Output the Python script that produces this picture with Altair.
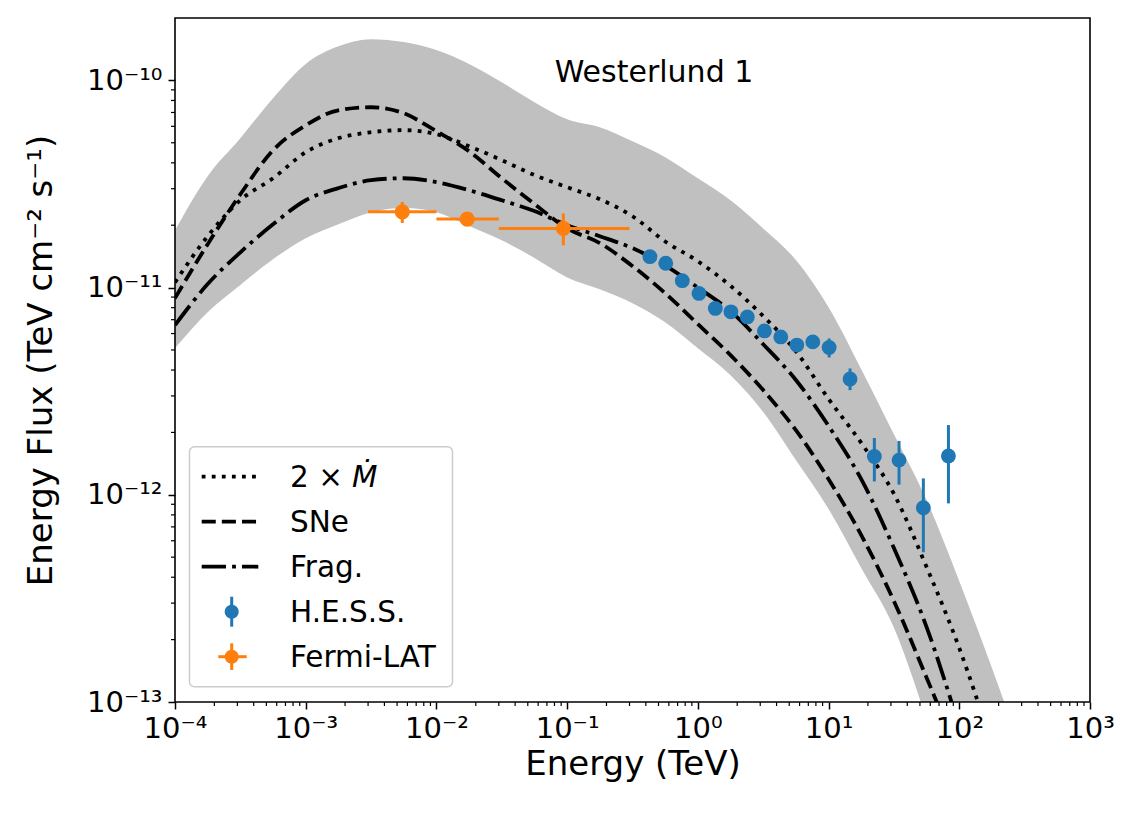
import altair as alt
import pandas as pd

# ---------------- data ----------------
E_grid = [1e-4, 1.778e-4, 3.162e-4, 5.623e-4, 1e-3, 1.778e-3, 3.162e-3, 5.623e-3,
          1e-2, 1.778e-2, 3.162e-2, 5.623e-2, 1e-1, 0.1778, 0.3162, 0.5623,
          1.0, 1.778, 3.162, 5.623, 10.0, 17.78, 31.62, 56.23, 100.0, 177.8, 316.2]

band_upper = [1.89e-11, 3.45e-11, 5.26e-11, 8.20e-11, 1.20e-10, 1.46e-10, 1.58e-10, 1.53e-10,
              1.40e-10, 1.20e-10, 9.79e-11, 7.84e-11, 6.49e-11, 5.94e-11, 5.09e-11, 4.26e-11,
              3.37e-11, 2.64e-11, 1.93e-11, 1.36e-11, 8.04e-12, 4.04e-12, 1.96e-12, 9.43e-13,
              3.83e-13, 1.46e-13, 5.25e-14]
band_lower = [5.10e-12, 7.61e-12, 1.03e-11, 1.37e-11, 1.73e-11, 2.02e-11, 2.31e-11, 2.42e-11,
              2.31e-11, 1.98e-11, 1.69e-11, 1.39e-11, 1.12e-11, 9.82e-12, 8.41e-12, 6.81e-12,
              5.10e-12, 3.78e-12, 2.51e-12, 1.47e-12, 8.53e-13, 4.43e-13, 2.28e-13, 8.19e-14,
              2.41e-14, 6.37e-15, 1.5e-15]

mdot_F = [1.06e-11, 1.77e-11, 2.64e-11, 3.37e-11, 4.50e-11, 5.26e-11, 5.62e-11, 5.75e-11,
          5.50e-11, 4.81e-11, 4.12e-11, 3.49e-11, 3.05e-11, 2.67e-11, 2.21e-11, 1.67e-11,
          1.34e-11, 1.02e-11, 7.28e-12, 4.93e-12, 2.90e-12, 1.78e-12, 1.01e-12, 4.48e-13,
          1.82e-13, 6.20e-14]
sne_F = [8.89e-12, 1.62e-11, 2.82e-11, 4.60e-11, 6.07e-11, 7.17e-11, 7.42e-11, 6.94e-11,
         5.68e-11, 4.55e-11, 3.37e-11, 2.53e-11, 1.93e-11, 1.64e-11, 1.27e-11, 9.40e-12,
         6.66e-12, 4.72e-12, 3.20e-12, 2.05e-12, 1.19e-12, 6.39e-13, 3.07e-13, 1.31e-13,
         5.43e-14]
frag_F = [6.59e-12, 1.04e-11, 1.48e-11, 2.02e-11, 2.64e-11, 3.02e-11, 3.30e-11, 3.37e-11,
          3.23e-11, 2.95e-11, 2.64e-11, 2.34e-11, 2.00e-11, 1.77e-11, 1.55e-11, 1.28e-11,
          1.00e-11, 7.69e-12, 5.33e-12, 3.58e-12, 2.15e-12, 1.19e-12, 5.53e-13, 2.30e-13,
          7.58e-14]

hess_E = [0.430, 0.568, 0.760, 1.02, 1.36, 1.79, 2.39, 3.23, 4.31, 5.72, 7.57, 10.1,
          14.6, 22.4, 34.6, 53.1, 82.6]
hess_F = [1.41e-11, 1.31e-11, 1.08e-11, 9.37e-12, 7.93e-12, 7.64e-12, 7.22e-12, 6.18e-12,
          5.78e-12, 5.28e-12, 5.47e-12, 5.14e-12, 3.62e-12, 1.53e-12, 1.47e-12, 8.66e-13, 1.54e-12]
hess_lo = [1.35e-11, 1.25e-11, 1.03e-11, 8.95e-12, 7.55e-12, 7.30e-12, 6.88e-12, 5.88e-12,
           5.48e-12, 4.98e-12, 5.12e-12, 4.60e-12, 3.20e-12, 1.16e-12, 1.12e-12, 5.28e-13, 9.09e-13]
hess_hi = [1.47e-11, 1.37e-11, 1.13e-11, 9.80e-12, 8.30e-12, 8.00e-12, 7.57e-12, 6.50e-12,
           6.10e-12, 5.60e-12, 5.83e-12, 5.68e-12, 4.07e-12, 1.88e-12, 1.82e-12, 1.20e-12, 2.17e-12]

fermi_E = [5.48e-3, 1.72e-2, 9.35e-2]
fermi_Elo = [3.0e-3, 1.0e-2, 3.0e-2]
fermi_Ehi = [1.0e-2, 3.0e-2, 0.30]
fermi_F = [2.32e-11, 2.14e-11, 1.93e-11]
fermi_Flo = [2.05e-11, 2.05e-11, 1.60e-11]
fermi_Fhi = [2.59e-11, 2.24e-11, 2.28e-11]

x_ticks = [1e-4, 1e-3, 1e-2, 1e-1, 1e0, 1e1, 1e2, 1e3]
x_tick_labels = ['10⁻⁴', '10⁻³', '10⁻²', '10⁻¹', '10⁰', '10¹', '10²', '10³']
y_ticks = [1e-13, 1e-12, 1e-11, 1e-10]
y_tick_labels = ['10⁻¹³', '10⁻¹²', '10⁻¹¹', '10⁻¹⁰']
x_minor = [m * 10.0 ** k for k in range(-4, 3) for m in range(2, 10)]
y_minor = [m * 10.0 ** k for k in range(-13, -10) for m in range(2, 10)]

title_text = 'Westerlund 1'
legend_labels = ['SNe', 'Frag.', 'H.E.S.S.', 'Fermi-LAT']
mdot_prefix = '2 ×'
mdot_symbol = 'Ṁ'
x_title = 'Energy (TeV)'
y_title = 'Energy Flux (TeV cm⁻² s⁻¹)'

# ---------------- styling ----------------
W, H = 915, 684
FONT = 'DejaVu Sans'
BLUE = '#1f77b4'
ORANGE = '#ff7f0e'
LW = 3.8

xs = alt.Scale(type='log', domain=[1e-4, 1e3], nice=False)
ys = alt.Scale(type='log', domain=[1e-13, 2e-10], nice=False)

x_expr = "[" + ",".join("'%s'" % s for s in x_tick_labels) + "][round(log(datum.value)/LN10)+4]"
y_expr = "[" + ",".join("'%s'" % s for s in y_tick_labels) + "][round(log(datum.value)/LN10)+13]"

x_axis = alt.Axis(values=x_ticks, labelExpr=x_expr, tickSize=7, tickWidth=1.5, tickColor='black',
                  labelFont=FONT, labelFontSize=29, labelColor='black', labelPadding=5,
                  labelFlush=False, labelOverlap=False, domain=False, grid=False,
                  titleFont=FONT, titleFontSize=34, titleFontWeight='normal', titleColor='black',
                  titleX=W / 2, titleY=72, titleBaseline='alphabetic', titleAlign='center')
y_axis = alt.Axis(values=y_ticks, labelExpr=y_expr, tickSize=7, tickWidth=1.5, tickColor='black',
                  labelFont=FONT, labelFontSize=29, labelColor='black', labelPadding=6,
                  labelFlush=False, labelOverlap=False, labelBaseline='middle', domain=False, grid=False,
                  titleFont=FONT, titleFontSize=34, titleFontWeight='normal', titleColor='black',
                  titleX=-124, titleY=H / 2, titleAngle=-90, titleBaseline='alphabetic', titleAlign='center')


def X(field):
    return alt.X(field, type='quantitative', scale=xs, axis=x_axis, title=x_title)


def Y(field):
    return alt.Y(field, type='quantitative', scale=ys, axis=y_axis, title=y_title)


one = pd.DataFrame({'k': [0]})

# ---------------- layers ----------------
band_df = pd.DataFrame({'E': E_grid, 'F': band_upper, 'F2': band_lower})
band = alt.Chart(band_df).mark_area(color='#c0c0c0', opacity=1, clip=True, interpolate='monotone').encode(
    x=X('E'), y=Y('F'), y2='F2')


def curve(vals, dash):
    df = pd.DataFrame({'E': E_grid[:len(vals)], 'F': vals})
    return alt.Chart(df).mark_line(color='black', strokeWidth=LW, strokeDash=dash, clip=True,
                                   interpolate='monotone').encode(x=X('E'), y=Y('F'))


DOT = [LW, 1.65 * LW]
DASH = [3.7 * LW, 1.6 * LW]
DASHDOT = [6.4 * LW, 1.6 * LW, LW, 1.6 * LW]

l_mdot = curve(mdot_F, DOT)
l_sne = curve(sne_F, DASH)
l_frag = curve(frag_F, DASHDOT)

hess_df = pd.DataFrame({'E': hess_E, 'F': hess_F, 'lo': hess_lo, 'hi': hess_hi})
hess_err = alt.Chart(hess_df).mark_rule(color=BLUE, strokeWidth=3).encode(x=X('E'), y=Y('lo'), y2='hi')
hess_pts = alt.Chart(hess_df).mark_circle(color=BLUE, size=220, opacity=1).encode(x=X('E'), y=Y('F'))

fermi_df = pd.DataFrame({'E': fermi_E, 'Elo': fermi_Elo, 'Ehi': fermi_Ehi,
                         'F': fermi_F, 'Flo': fermi_Flo, 'Fhi': fermi_Fhi})
fermi_xerr = alt.Chart(fermi_df).mark_rule(color=ORANGE, strokeWidth=3).encode(x=X('Elo'), x2='Ehi', y=Y('F'))
fermi_yerr = alt.Chart(fermi_df).mark_rule(color=ORANGE, strokeWidth=3).encode(x=X('E'), y=Y('Flo'), y2='Fhi')
fermi_pts = alt.Chart(fermi_df).mark_circle(color=ORANGE, size=230, opacity=1).encode(x=X('E'), y=Y('F'))

# minor ticks (outside, like matplotlib)
xminor_df = pd.DataFrame({'E': x_minor})
xminor = alt.Chart(xminor_df).mark_rule(color='black', strokeWidth=1.2).encode(
    x=X('E'), y=alt.value(H), y2=alt.value(H + 4))
yminor_df = pd.DataFrame({'F': y_minor})
yminor = alt.Chart(yminor_df).mark_rule(color='black', strokeWidth=1.2).encode(
    y=Y('F'), x=alt.value(0), x2=alt.value(-4))

frame = alt.Chart(one).mark_rect(filled=False, stroke='black', strokeWidth=1.6).encode(
    x=alt.value(0), x2=alt.value(W), y=alt.value(0), y2=alt.value(H))

title = alt.Chart(pd.DataFrame({'t': [title_text]})).mark_text(
    font=FONT, fontSize=30, color='black', align='center', baseline='alphabetic').encode(
    x=alt.value(479), y=alt.value(64), text='t:N')

# ---------------- legend ----------------
leg_box = alt.Chart(one).mark_rect(fill='white', fillOpacity=0.8, stroke='#cccccc', strokeWidth=1.5,
                                   cornerRadius=5).encode(
    x=alt.value(14.5), x2=alt.value(277.5), y=alt.value(428.7), y2=alt.value(668.7))


def leg_line(y, dash):
    return alt.Chart(one).mark_rule(color='black', strokeWidth=LW, strokeDash=dash).encode(
        x=alt.value(26.7), x2=alt.value(83.3), y=alt.value(y))


def leg_text(txt, x, y, italic=False):
    kw = dict(font=FONT, fontSize=29.5, color='black', align='left', baseline='alphabetic')
    if italic:
        kw['fontStyle'] = 'italic'
    return alt.Chart(pd.DataFrame({'t': [txt]})).mark_text(**kw).encode(
        x=alt.value(x), y=alt.value(y), text='t:N')


leg_layers = [
    leg_box,
    leg_line(458.7, DOT), leg_line(503.7, DASH), leg_line(548.7, DASHDOT),
    alt.Chart(one).mark_rule(color=BLUE, strokeWidth=3).encode(
        x=alt.value(56.7), y=alt.value(578.7), y2=alt.value(608.7)),
    alt.Chart(one).mark_circle(color=BLUE, size=200, opacity=1).encode(
        x=alt.value(56.7), y=alt.value(593.7)),
    alt.Chart(one).mark_rule(color=ORANGE, strokeWidth=3).encode(
        x=alt.value(56.7), y=alt.value(625.3), y2=alt.value(652)),
    alt.Chart(one).mark_rule(color=ORANGE, strokeWidth=3).encode(
        x=alt.value(43.3), x2=alt.value(71.7), y=alt.value(638.7)),
    alt.Chart(one).mark_circle(color=ORANGE, size=200, opacity=1).encode(
        x=alt.value(56.7), y=alt.value(638.7)),
    leg_text(mdot_prefix, 115, 469.2),
    leg_text(mdot_symbol, 177, 469.2, italic=True),
    leg_text(legend_labels[0], 115, 514.2),
    leg_text(legend_labels[1], 115, 559.2),
    leg_text(legend_labels[2], 115, 604.2),
    leg_text(legend_labels[3], 115, 649.2),
]

chart = alt.layer(
    band, l_mdot, l_sne, l_frag,
    hess_err, hess_pts, fermi_xerr, fermi_yerr, fermi_pts,
    title, *leg_layers, xminor, yminor, frame
).properties(
    width=W, height=H,
    autosize=alt.AutoSizeParams(type='none'),
    padding={'left': 167, 'top': 10, 'right': 38, 'bottom': 100},
    background='white'
).configure_view(stroke=None)

chart.save('out.html', embed_options={'renderer': 'svg', 'actions': False})
